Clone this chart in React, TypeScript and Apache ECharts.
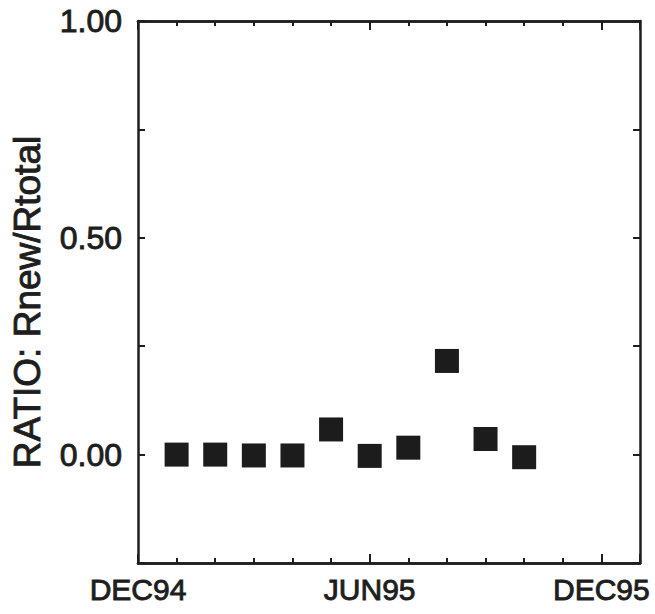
import React, { useEffect, useRef } from "react";
import * as echarts from "echarts";

const months = [1, 2, 3, 4, 5, 6, 7, 8, 9, 10];
const ratio = [0.0, 0.0, -0.002, -0.002, 0.058, -0.003, 0.016, 0.216, 0.036, -0.006];
const xTickPositions = [0, 6, 12];
const xTickLabels = ["DEC94", "JUN95", "DEC95"];
const yTickLabels = ["0.00", "0.50", "1.00"];
const yLabelValues = [0, 0.5, 1.0];

const INK = "#1e1e1e";
const FONT = "'Liberation Sans', Arial, Helvetica, sans-serif";

export default function App() {
  const ref = useRef<HTMLDivElement>(null);
  useEffect(() => {
    if (!ref.current) return;
    const chart = echarts.init(ref.current, undefined, { renderer: "svg" });
    const xBase = {
      type: "value" as const,
      min: 0,
      max: 13,
      splitLine: { show: false },
      axisLine: { show: true, onZero: false, lineStyle: { color: INK, width: 2.5 } },
    };
    const xLabelFmt = (v: number) => {
      const r = Math.round(v);
      const i = xTickPositions.indexOf(r);
      return i >= 0 && Math.abs(v - r) < 1e-6 ? xTickLabels[i] : "";
    };
    const yBase = {
      type: "value" as const,
      min: -0.25,
      max: 1.0,
      interval: 0.25,
      splitLine: { show: false },
      axisLine: { show: true, onZero: false, lineStyle: { color: INK, width: 2.5 } },
      axisTick: { show: true, inside: true, length: 7, lineStyle: { color: INK, width: 2 } },
    };
    const textStyle = {
      color: INK,
      fontFamily: FONT,
      fontWeight: "normal",
      textBorderColor: INK,
      textBorderWidth: 0.9,
    };
    const option = {
      animation: false,
      backgroundColor: "#ffffff",
      grid: { left: 138, right: 15, top: 21, bottom: 51, containLabel: false },
      xAxis: [
        {
          ...xBase,
          position: "bottom",
          interval: 1,
          axisTick: { show: true, inside: true, length: 5, lineStyle: { color: INK, width: 2 } },
          axisLabel: { show: false },
        },
        {
          ...xBase,
          position: "bottom",
          interval: 6,
          axisTick: { show: true, inside: true, length: 9, lineStyle: { color: INK, width: 2 } },
          axisLabel: {
            show: true,
            margin: 11,
            ...textStyle,
            fontSize: 30,
            formatter: xLabelFmt,
          },
        },
        {
          ...xBase,
          position: "top",
          interval: 1,
          axisTick: { show: true, inside: true, length: 5, lineStyle: { color: INK, width: 2 } },
          axisLabel: { show: false },
        },
        {
          ...xBase,
          position: "top",
          interval: 6,
          axisTick: { show: true, inside: true, length: 9, lineStyle: { color: INK, width: 2 } },
          axisLabel: { show: false },
        },
      ],
      yAxis: [
        {
          ...yBase,
          position: "left",
          axisLabel: {
            show: true,
            margin: 16,
            ...textStyle,
            fontSize: 32,
            formatter: (v: number) => {
              const i = yLabelValues.findIndex((t) => Math.abs(t - v) < 1e-6);
              return i >= 0 ? yTickLabels[i] : "";
            },
          },
          name: "RATIO: Rnew/Rtotal",
          nameLocation: "middle",
          nameGap: 92,
          nameRotate: 90,
          nameTextStyle: {
            ...textStyle,
            fontSize: 37,
            padding: [0, 20, 0, 0],
          },
        },
        {
          ...yBase,
          position: "right",
          axisLabel: { show: false },
        },
      ],
      series: [
        {
          type: "scatter",
          xAxisIndex: 0,
          yAxisIndex: 0,
          symbol: "rect",
          symbolSize: 24,
          itemStyle: { color: "#1c1c1c", opacity: 1 },
          data: months.map((m, i) => [m, ratio[i]]),
        },
      ],
    };
    chart.setOption(option as any);
    return () => chart.dispose();
  }, []);
  return (
    <div
      ref={ref}
      style={{ position: "fixed", left: 0, top: 0, width: 655, height: 614, background: "#fff" }}
    />
  );
}
